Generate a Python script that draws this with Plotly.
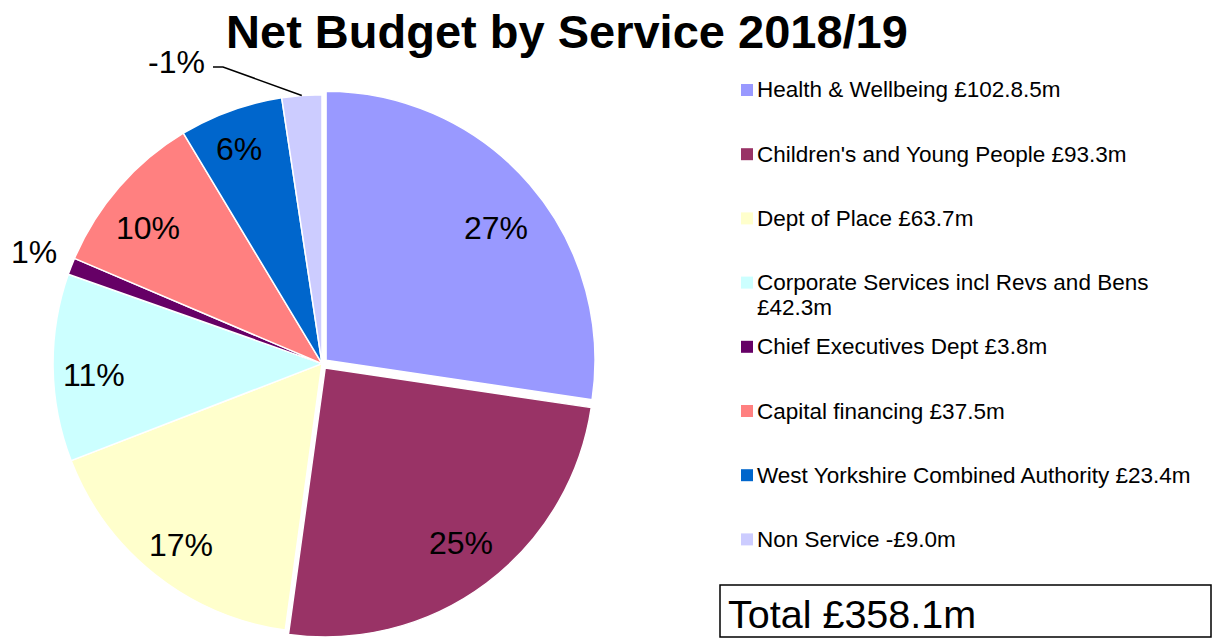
import math
import textwrap
import plotly.graph_objects as go

# Net budget by service, £m (Non Service is a net credit)
services = [
    "Health & Wellbeing",
    "Children's and Young People",
    "Dept of Place",
    "Corporate Services incl Revs and Bens",
    "Chief Executives Dept",
    "Capital financing",
    "West Yorkshire Combined Authority",
    "Non Service",
]
budget_m = [102.8, 93.3, 63.7, 42.3, 3.8, 37.5, 23.4, -9.0]
legend_labels = [
    "Health & Wellbeing £102.8.5m",
    "Children's and Young People £93.3m",
    "Dept of Place £63.7m",
    "Corporate Services incl Revs and Bens £42.3m",
    "Chief Executives Dept £3.8m",
    "Capital financing £37.5m",
    "West Yorkshire Combined Authority £23.4m",
    "Non Service -£9.0m",
]
pct_labels = ["27%", "25%", "17%", "11%", "1%", "10%", "6%", "-1%"]
slice_colors = ["#9999FF", "#993366", "#FFFFCC", "#CCFFFF",
                "#660066", "#FF8080", "#0066CC", "#CCCCFF"]
pulls = [0.02, 0.02, 0, 0, 0, 0, 0, 0]
title_text = "Net Budget by Service 2018/19"
total_text = "Total £358.1m"

W, H = 1214, 638
FONT = "Liberation Sans, Arial, sans-serif"

# label placement: (radius as fraction of pie radius, angular nudge in degrees)
label_place = [(0.80, 3.0), (0.825, -1.0), (0.855, -0.5), (0.85, -1.9),
               (1.147, 0.0), (0.822, -3.1), (0.857, -1.2), None]
minus_label_px = (176, 62)          # label for the negative slice
leader_elbow_px = [(213, 67), (223, 67)]

sizes = [abs(v) for v in budget_m]
dom_x = [42 / W, 602 / W]
dom_y = [0.0, 0.86]

fig = go.Figure(go.Pie(
    labels=services,
    values=sizes,
    sort=False,
    direction="clockwise",
    rotation=0,
    pull=pulls,
    marker=dict(colors=slice_colors, line=dict(color="white", width=1.5)),
    textinfo="none",
    hoverinfo="label+value",
    showlegend=False,
    domain=dict(x=dom_x, y=dom_y),
))

# Pie geometry in pixels (same rule plotly uses to size the pie)
box_w = W * (dom_x[1] - dom_x[0])
box_h = H * (dom_y[1] - dom_y[0])
R = min(box_w, box_h) / 2 / (1 + max(pulls))
CX = W * (dom_x[0] + dom_x[1]) / 2
CY = H * (1 - dom_y[0]) - box_h / 2


def to_paper(px, py):
    return px / W, 1 - py / H


annotations = []
shapes = []
total = sum(sizes)
cum = 0.0
for i, (s, txt) in enumerate(zip(sizes, pct_labels)):
    mid = (cum + s / 2) / total * 2 * math.pi
    cum += s
    ux, uy = math.sin(mid), -math.cos(mid)
    ox, oy = pulls[i] * R * ux, pulls[i] * R * uy
    if label_place[i] is None:
        # negative slice: label placed up-left with a leader line to the rim
        ex, ey = CX + R * ux, CY + R * uy
        px, py = minus_label_px
        pts = [to_paper(*p) for p in leader_elbow_px] + [to_paper(ex, ey)]
        path = "M " + " L ".join(f"{a} {b}" for a, b in pts)
        shapes.append(dict(type="path", xref="paper", yref="paper",
                           path=path, line=dict(color="black", width=1.5)))
    else:
        frac, nudge = label_place[i]
        a = mid + math.radians(nudge)
        px = CX + ox + frac * R * math.sin(a)
        py = CY + oy - frac * R * math.cos(a)
    ax, ay = to_paper(px, py)
    annotations.append(dict(x=ax, y=ay, xref="paper", yref="paper",
                            text=txt, showarrow=False,
                            xanchor="center", yanchor="middle",
                            font=dict(family=FONT, size=32, color="black")))

# Legend: colour squares with labels
leg_x, leg_y0, leg_step = 741, 90, 64.2
for i, (lab, col) in enumerate(zip(legend_labels, slice_colors)):
    yc = leg_y0 + i * leg_step
    sx0, sy0 = to_paper(leg_x, yc - 6)
    sx1, sy1 = to_paper(leg_x + 12, yc + 6)
    shapes.append(dict(type="rect", xref="paper", yref="paper",
                       x0=sx0, x1=sx1, y0=sy1, y1=sy0,
                       fillcolor=col, line=dict(width=0)))
    for j, line in enumerate(textwrap.wrap(lab, 41)):
        tx, ty = to_paper(755, yc + j * 25)
        annotations.append(dict(x=tx, y=ty, xref="paper", yref="paper",
                                text=line, showarrow=False,
                                xanchor="left", yanchor="middle",
                                font=dict(family=FONT, size=22.5, color="black")))

# Total box
bx0, by0 = to_paper(720, 585)
bx1, by1 = to_paper(1211, 637)
shapes.append(dict(type="rect", xref="paper", yref="paper",
                   x0=bx0, x1=bx1, y0=by1, y1=by0,
                   fillcolor="white", line=dict(color="black", width=1.5)))
tx, ty = to_paper(726, 614)
annotations.append(dict(x=tx, y=ty, xref="paper", yref="paper",
                        text=total_text, showarrow=False,
                        xanchor="left", yanchor="middle",
                        font=dict(family=FONT, size=39.5, color="black")))

fig.update_layout(
    width=W, height=H,
    margin=dict(l=0, r=0, t=0, b=0),
    paper_bgcolor="white",
    plot_bgcolor="white",
    title=dict(text=f"<b>{title_text}</b>", x=567 / W, xanchor="center",
               y=1 - 32 / H, yanchor="middle",
               font=dict(family=FONT, size=47, color="black")),
    annotations=annotations,
    shapes=shapes,
)

fig.write_html("out.html")
